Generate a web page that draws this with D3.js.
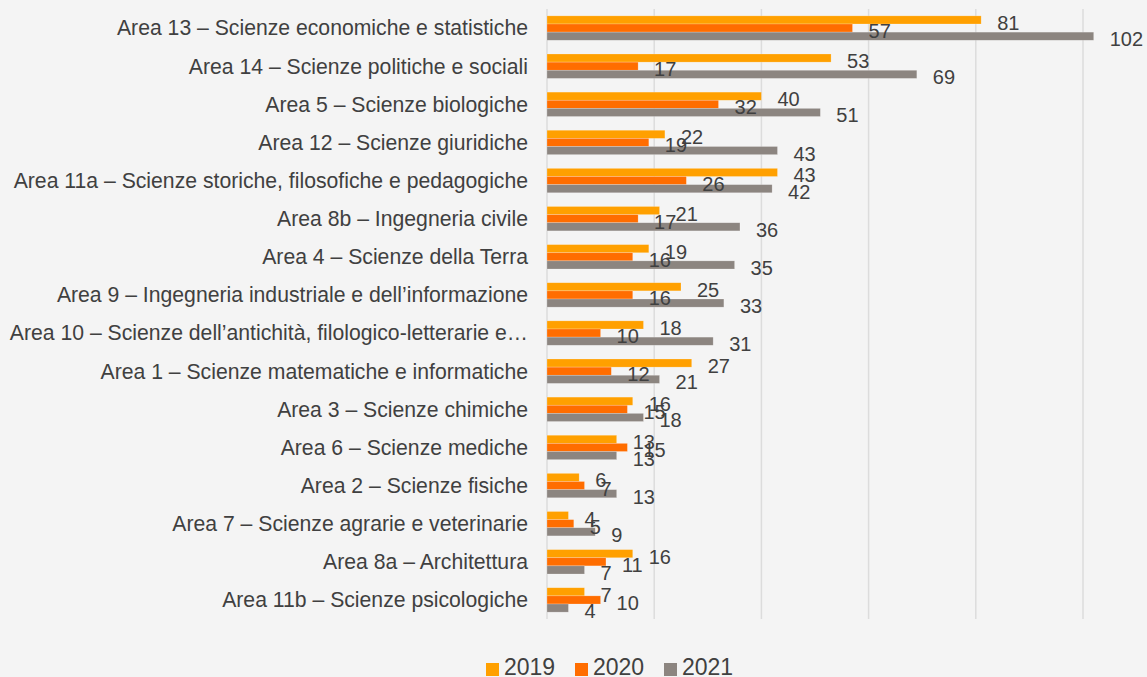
<!DOCTYPE html>
<head>
  <meta charset="utf-8">
  <script src="https://d3js.org/d3.v7.min.js"></script>
  <style>
    body { margin:0; background:#f4f4f4; }
    svg { display:block; font-family:"Liberation Sans", Arial, sans-serif; }
    .catLabel { fill:#404040; font-size:21.2px; }
    .valLabel { fill:#404040; font-size:20px; }
    .legendText { fill:#404040; font-size:23px; }
  </style>
</head>
<body>
  <script>
    var width = 1147, height = 677;

    var categories = [
      "Area 13 – Scienze economiche e statistiche",
      "Area 14 – Scienze politiche e sociali",
      "Area 5 – Scienze biologiche",
      "Area 12 – Scienze giuridiche",
      "Area 11a – Scienze storiche, filosofiche e pedagogiche",
      "Area 8b – Ingegneria civile",
      "Area 4 – Scienze della Terra",
      "Area 9 – Ingegneria industriale e dell’informazione",
      "Area 10 – Scienze dell’antichità, filologico-letterarie e…",
      "Area 1 – Scienze matematiche e informatiche",
      "Area 3 – Scienze chimiche",
      "Area 6 – Scienze mediche",
      "Area 2 – Scienze fisiche",
      "Area 7 – Scienze agrarie e veterinarie",
      "Area 8a – Architettura",
      "Area 11b – Scienze psicologiche"
    ];
    var years = ["2019", "2020", "2021"];
    var values2019 = [81, 53, 40, 22, 43, 21, 19, 25, 18, 27, 16, 13, 6, 4, 16, 7];
    var values2020 = [57, 17, 32, 19, 26, 17, 16, 16, 10, 12, 15, 15, 7, 5, 11, 10];
    var values2021 = [102, 69, 51, 43, 42, 36, 35, 33, 31, 21, 18, 13, 13, 9, 7, 4];
    var colors = ["#ffa000", "#ff6d00", "#8c8580"];

    var series = [values2019, values2020, values2021];
    var rows = categories.map(function(c, i){
      return { cat: c, vals: years.map(function(y, k){ return { year: y, k: k, v: series[k][i] }; }) };
    });

    var svg = d3.select('body').append('svg')
      .attr('width', width).attr('height', height);

    var x = d3.scaleLinear().domain([0, 100]).range([547, 1083]);
    var y0 = d3.scaleBand().domain(categories).range([9, 619])
      .paddingInner(0.36).paddingOuter(0.18);
    var y1 = d3.scaleBand().domain(years).range([0, y0.bandwidth()]);

    // gridlines
    svg.append('g').selectAll('line')
      .data(x.ticks(5))
      .enter().append('line')
      .attr('x1', d => x(d)).attr('x2', d => x(d))
      .attr('y1', 9).attr('y2', 619)
      .attr('stroke', '#dcdcdc').attr('stroke-width', 1.5);

    // category labels
    svg.append('g').selectAll('text')
      .data(categories)
      .enter().append('text')
      .attr('class', 'catLabel')
      .attr('x', 528)
      .attr('y', d => y0(d) + y0.bandwidth()/2)
      .attr('dy', '0.35em')
      .attr('text-anchor', 'end')
      .text(d => d);

    var groups = svg.append('g').selectAll('g')
      .data(rows)
      .enter().append('g')
      .attr('transform', d => `translate(0,${y0(d.cat)})`);

    groups.selectAll('rect')
      .data(d => d.vals)
      .enter().append('rect')
      .attr('x', x(0))
      .attr('y', d => y1(d.year))
      .attr('width', d => x(d.v) - x(0))
      .attr('height', y1.bandwidth())
      .attr('fill', d => colors[d.k])
      .attr('stroke', 'rgba(255,255,255,0.35)')
      .attr('stroke-width', 0.6);

    groups.selectAll('text')
      .data(d => d.vals)
      .enter().append('text')
      .attr('class', 'valLabel')
      .attr('x', d => x(d.v) + 16)
      .attr('y', d => y1(d.year) + y1.bandwidth()/2 + 3)
      .attr('dy', '0.35em')
      .text(d => d.v);

    // legend
    var legendX = [486, 575, 664];
    var legend = svg.append('g').selectAll('g')
      .data(years)
      .enter().append('g')
      .attr('transform', (d, i) => `translate(${legendX[i]},663)`);
    legend.append('rect')
      .attr('width', 13).attr('height', 13)
      .attr('fill', (d, i) => colors[i]);
    legend.append('text')
      .attr('class', 'legendText')
      .attr('x', 18).attr('y', 12)
      .text(d => d);
  </script>
</body>
